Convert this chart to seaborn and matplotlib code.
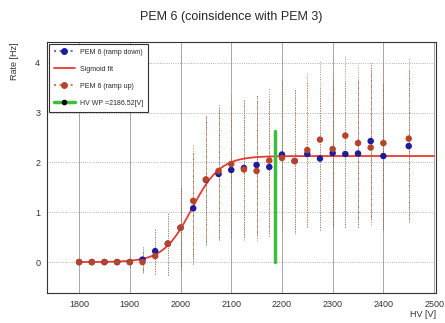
import numpy as np
import pandas as pd
import seaborn as sns
import matplotlib.pyplot as plt
from matplotlib.ticker import MultipleLocator

# HV scan, PEM 6 coincidence with PEM 3
hv = [1800, 1825, 1850, 1875, 1900, 1925, 1950, 1975, 2000, 2025, 2050, 2075, 2100,
      2125, 2150, 2175, 2200, 2225, 2250, 2275, 2300, 2325, 2350, 2375, 2400, 2450]
rate_down = [0.0, 0.0, 0.0, 0.0, 0.0, 0.05, 0.22, 0.37, 0.69, 1.08, 1.65, 1.77, 1.85,
             1.89, 1.95, 1.91, 2.16, 2.03, 2.17, 2.08, 2.19, 2.17, 2.18, 2.43, 2.13, 2.33]
err_down = [0.0, 0.0, 0.0, 0.0, 0.1, 0.25, 0.45, 0.62, 0.82, 1.12, 1.28, 1.33, 1.35,
            1.38, 1.4, 1.38, 1.48, 1.43, 1.47, 1.43, 1.48, 1.47, 1.47, 1.56, 1.46, 1.53]
rate_up = [0.0, 0.0, 0.0, 0.0, 0.0, 0.0, 0.12, 0.37, 0.69, 1.23, 1.66, 1.83, 1.97,
           1.86, 1.83, 2.04, 2.09, 2.03, 2.25, 2.46, 2.27, 2.54, 2.39, 2.30, 2.39, 2.48]
err_up = [0.0, 0.0, 0.0, 0.0, 0.1, 0.22, 0.25, 0.63, 0.8, 1.15, 1.31, 1.36, 1.4,
          1.41, 1.4, 1.46, 1.45, 1.46, 1.54, 1.58, 1.55, 1.6, 1.57, 1.55, 1.6, 1.6]

# sigmoid fit parameters
fit_amp = 2.13
fit_x0 = 2022.0
fit_w = 28.0
hv_wp = 2186.52
wp_top = 2.64

sns.set_style("white")
plt.rcParams['font.family'] = ['Liberation Sans', 'DejaVu Sans']

fig = plt.figure(figsize=(4.45, 3.23), dpi=100)
ax = fig.add_axes([0.106, 0.093, 0.874, 0.777])

down = pd.DataFrame({'hv': hv, 'rate': rate_down, 'err': err_down})
up = pd.DataFrame({'hv': hv, 'rate': rate_up, 'err': err_up})

eb1 = ax.errorbar(down['hv'], down['rate'], yerr=down['err'], fmt='none',
                  ecolor='#606060', elinewidth=0.7, zorder=2)
eb2 = ax.errorbar(up['hv'], up['rate'], yerr=up['err'], fmt='none',
                  ecolor='#d08a5a', elinewidth=0.7, zorder=2)
for c in list(eb1[2]) + list(eb2[2]):
    c.set_linestyle((0, (1, 1.5)))

xs = np.linspace(1800, 2500, 300)
fit = pd.DataFrame({'hv': xs, 'rate': fit_amp / (1 + np.exp(-(xs - fit_x0) / fit_w))})
sns.lineplot(data=fit, x='hv', y='rate', color='#e83a32', lw=1.3, ax=ax, zorder=3)

sns.scatterplot(data=down, x='hv', y='rate', color='#1c1c9c', s=22, edgecolor='none',
                ax=ax, zorder=4)
sns.scatterplot(data=up, x='hv', y='rate', color='#b5452a', s=22, edgecolor='none',
                ax=ax, zorder=5)

ax.plot([hv_wp, hv_wp], [0, wp_top], color='#3cbf3c', lw=2.5, zorder=6)

# legend handles
h1, = ax.plot([], [], ls=':', color='#7070c0', marker='o', mfc='#1c1c9c', mec='#1c1c9c', ms=4)
h2, = ax.plot([], [], color='#e83a32', lw=1.3)
h3, = ax.plot([], [], ls=':', color='#d08050', marker='o', mfc='#b5452a', mec='#b5452a', ms=4)
h4, = ax.plot([], [], color='#3cbf3c', lw=2.5, marker='o', mfc='black', mec='black', ms=3)
leg = ax.legend([h1, h2, h3, h4],
                ['PEM 6 (ramp down)', 'Sigmoid fit', 'PEM 6 (ramp up)', 'HV WP =2186.52[V]'],
                loc='upper left', fontsize=5, frameon=True, fancybox=False,
                borderpad=0.7, labelspacing=1.45, handlelength=3.0, borderaxespad=0.25)
leg.get_frame().set_edgecolor('#333333')
leg.get_frame().set_linewidth(0.8)
leg.get_frame().set_alpha(1)

ax.set_xlim(1737, 2504)
ax.set_ylim(-0.62, 4.42)
ax.xaxis.set_major_locator(MultipleLocator(100))
ax.xaxis.set_minor_locator(MultipleLocator(20))
ax.yaxis.set_major_locator(MultipleLocator(1))
ax.yaxis.set_minor_locator(MultipleLocator(0.2))
ax.tick_params(which='both', direction='in', labelsize=6.5, color='#333333',
               labelcolor='#333333')
ax.tick_params(which='major', length=5, pad=5)
ax.tick_params(which='minor', length=2.5)
ax.grid(True, axis='x', color='#999999', lw=0.6, ls='-')
ax.grid(True, axis='y', color='#999999', lw=0.6, ls=':')
for s in ax.spines.values():
    s.set_color('#333333')
    s.set_linewidth(0.8)

ax.set_xlabel('HV [V]', fontsize=6.5, loc='right', labelpad=1, color='#333333')
ax.set_ylabel('Rate [Hz]', fontsize=6.5, loc='top', labelpad=12, color='#333333')
fig.suptitle('PEM 6 (coinsidence with PEM 3)', fontsize=9, y=0.965, x=0.52)

fig.savefig('out.png', dpi=100)
